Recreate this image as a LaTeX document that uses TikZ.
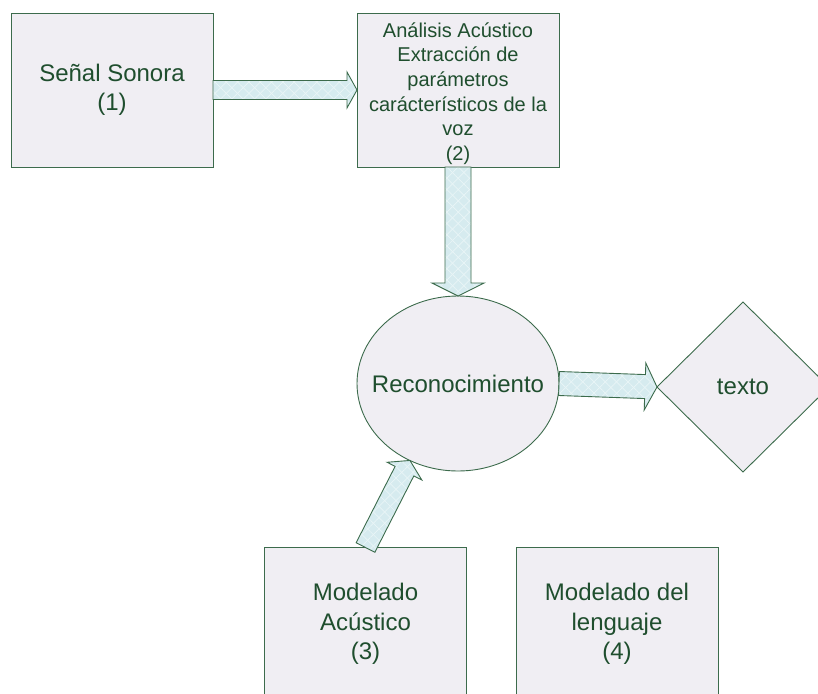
\documentclass[tikz,border=0pt]{standalone}
\usepackage{fontspec}
\setmainfont{Liberation Sans}
\usetikzlibrary{shapes.geometric,calc,patterns.meta}
\definecolor{bordc}{HTML}{3C6B4C}
\definecolor{txtc}{HTML}{1F4E2E}
\definecolor{boxf}{HTML}{F0EEF3}
\definecolor{arrf}{HTML}{D6EBEF}
\definecolor{arrl}{HTML}{E9F5F7}
\tikzset{
  blockbox/.style={draw=bordc, fill=boxf, line width=0.9pt, minimum width=202pt, minimum height=154pt, inner sep=0pt, outer sep=0pt, text=txtc, align=center, font=\fontsize{24}{29.5}\selectfont},
  bigtext/.style={text=txtc, font=\fontsize{24}{29}\selectfont, inner sep=0pt},
  smalltext/.style={text=txtc, align=center, font=\fontsize{20}{24.6}\selectfont, inner sep=0pt},
  roundbox/.style={ellipse, draw=bordc, fill=boxf, line width=0.9pt, minimum width=202pt, minimum height=175pt, inner sep=0pt, outer sep=0pt},
  diamondbox/.style={diamond, draw=bordc, fill=boxf, line width=0.9pt, minimum width=172pt, minimum height=170pt, inner sep=0pt, outer sep=0pt, text=txtc, font=\fontsize{24}{29}\selectfont},
  fatarrowstyle/.style={draw=bordc, line width=0.9pt, line join=miter,
    preaction={fill=arrf},
    preaction={pattern={Lines[angle=45,distance=8pt,line width=0.7pt]}, pattern color=arrl},
    preaction={pattern={Lines[angle=-45,distance=8pt,line width=0.7pt]}, pattern color=arrl}}
}
% #1 start, #2 tip, #3 shaft half width, #4 head half width, #5 head length (all in pt)
\newcommand\fatarrow[5]{%
  \coordinate (fabase) at ($(#2)!#5pt!(#1)$);
  \path[fatarrowstyle] ($(#1)!#3pt!90:(#2)$) -- ($(fabase)!#3pt!90:(#2)$) -- ($(fabase)!#4pt!90:(#2)$) -- (#2)
    -- ($(fabase)!#4pt!-90:(#2)$) -- ($(fabase)!#3pt!-90:(#2)$) -- ($(#1)!#3pt!-90:(#2)$) -- cycle;
}
\begin{document}
\begin{tikzpicture}[x=1pt,y=1pt]
\useasboundingbox (0,0) rectangle (818,-693);
\clip (0,0) rectangle (818,-693);
\node[blockbox] (s1) at (112,-90) {Señal Sonora\\(1)};
\node[blockbox, label={[smalltext, yshift=-3.5pt]center:{Análisis Acústico\\Extracción de\\parámetros\\carácterísticos de la\\voz\\(2)}}] (s2) at (458,-90) {};
\node[roundbox, label={[bigtext]center:Reconocimiento}] (rec) at (458,-383.5) {};
\node[diamondbox] (txt) at (743,-387) {texto};
\node[blockbox] (m3) at (365.5,-624) {Modelado\\Acústico\\(3)};
\node[blockbox] (m4) at (617,-624) {Modelado del\\lenguaje\\(4)};
\fatarrow{s1.east}{s2.west}{9.5}{18}{10}
\fatarrow{s2.south}{rec.north}{13}{26}{13}
\fatarrow{rec.east}{txt.west}{12}{23.5}{12}
\coordinate (m3top) at ($(m3.north)+(0,-0.5)$);
\fatarrow{m3top}{rec.-122}{10.5}{19.5}{12}
\end{tikzpicture}
\end{document}
